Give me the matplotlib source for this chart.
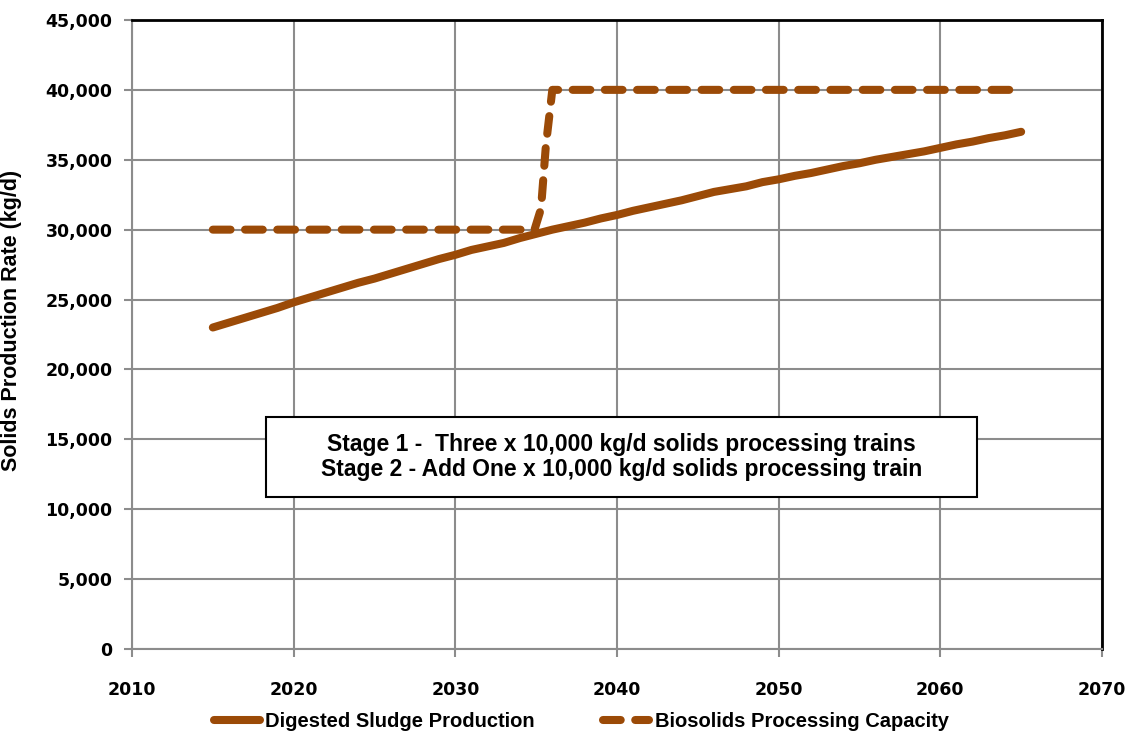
import matplotlib.pyplot as plt
from matplotlib.patches import Rectangle
import numpy as np

# Datos
years = list(range(2015, 2066))
sludge = [23000, 23350, 23700, 24050, 24400, 24800, 25150, 25500, 25850, 26200,
          26500, 26850, 27200, 27550, 27900, 28200, 28550, 28800, 29050, 29400,
          29700, 30000, 30250, 30500, 30800, 31050, 31350, 31600, 31850, 32100,
          32400, 32700, 32900, 33100, 33400, 33600, 33850, 34050, 34300, 34550,
          34750, 35000, 35200, 35400, 35600, 35850, 36100, 36300, 36550, 36750,
          37000]
cap_years = [2015, 2020, 2025, 2030, 2034.9, 2035.3, 2035.6, 2036, 2040, 2045, 2050, 2055, 2060, 2065]
capacity = [30000, 30000, 30000, 30000, 30000, 31500, 36000, 40000, 40000, 40000, 40000, 40000, 40000, 40000]

color = '#9B4A07'
sans = ['Liberation Sans', 'DejaVu Sans']

fig = plt.figure(figsize=(11.35, 7.37), dpi=100)
ax = fig.add_axes([0.1163, 0.1194, 0.8546, 0.8535])

ax.plot(years, sludge, color=color, lw=5.8, solid_capstyle='round',
        label='Digested Sludge Production', zorder=3)
ax.plot(cap_years, capacity, color=color, lw=5.8, dashes=(2.2, 1.8),
        dash_capstyle='round', label='Biosolids Processing Capacity', zorder=3)

ax.set_xlim(2010, 2070)
ax.set_ylim(0, 45000)
ax.set_xticks(np.arange(2010, 2071, 10))
ax.set_yticks(np.arange(0, 45001, 5000))
ax.set_yticklabels([f'{v:,}' for v in range(0, 45001, 5000)])
ax.grid(True, color='#8c8c8c', lw=1.5, zorder=0)
ax.tick_params(direction='out', length=6, width=1.5, color='#8c8c8c', pad=8)
ax.tick_params(axis='x', pad=17)
for lab in ax.get_xticklabels() + ax.get_yticklabels():
    lab.set_fontweight('bold')
    lab.set_fontsize(12.5)

for s in ['left', 'bottom']:
    ax.spines[s].set_color('#8c8c8c')
    ax.spines[s].set_linewidth(1.5)
for s in ['top', 'right']:
    ax.spines[s].set_color('black')
    ax.spines[s].set_linewidth(2)

ax.set_ylabel('Solids Production Rate (kg/d)', fontsize=15.5, fontweight='bold', family=sans)
ax.yaxis.set_label_coords(-0.113, 0.523)

# Cuadro de texto
ax.add_patch(Rectangle((2018.3, 10870), 44.0, 5730, transform=ax.transData,
                       facecolor='white', edgecolor='black', lw=1.5, zorder=5))
ax.text(2040.3, 13750,
        'Stage 1 -  Three x 10,000 kg/d solids processing trains\n'
        'Stage 2 - Add One x 10,000 kg/d solids processing train',
        ha='center', va='center', fontsize=16.5, fontweight='bold', family=sans,
        linespacing=1.12, zorder=6)

fig.legend(loc='center', bbox_to_anchor=(0.512, 0.021), ncol=2, frameon=False,
           handlelength=2.3, columnspacing=3.4, handletextpad=0.25,
           prop={'family': sans, 'weight': 'bold', 'size': 14.5})

fig.savefig('out.png', dpi=100)
